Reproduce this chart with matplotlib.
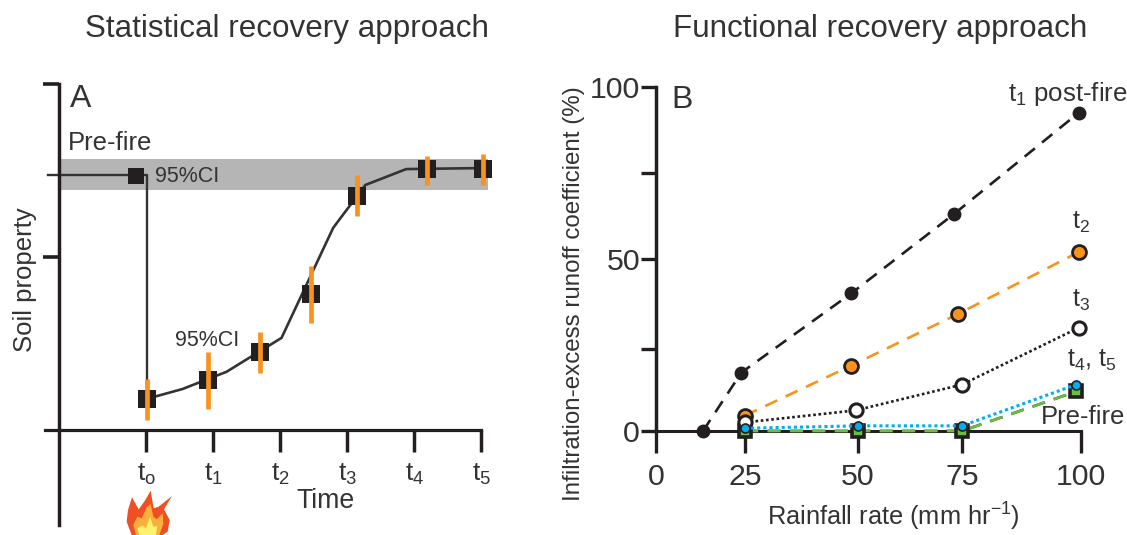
import matplotlib
matplotlib.use("Agg")
import matplotlib.pyplot as plt
import numpy as np
from matplotlib.patches import Polygon

plt.rcParams['font.family'] = ['Liberation Sans', 'DejaVu Sans']
plt.rcParams['mathtext.fontset'] = 'custom'
plt.rcParams['mathtext.rm'] = 'Liberation Sans'
plt.rcParams['text.color'] = '#333333'

W, H = 1127, 535
BLACK = '#231f20'
ORANGE = '#f7931e'

# panel A, statistical recovery
time_labels = [r'$\mathregular{t_o}$', r'$\mathregular{t_1}$', r'$\mathregular{t_2}$',
               r'$\mathregular{t_3}$', r'$\mathregular{t_4}$', r'$\mathregular{t_5}$']
pre_time = [-1.46, 0.015, 0.015]
pre_value = [73.6, 73.6, 9]
pre_point_time = -0.15
pre_point_value = 73.4
pre_band = [69.4, 78.2]
curve_time = [0.015, 0.54, 1.2, 2.02, 2.79, 3.27, 3.88, 5.03]
curve_value = [9, 11.8, 16.8, 26.6, 58.4, 70.8, 75.4, 75.7]
point_time = [0.015, 0.925, 1.7, 2.46, 3.15, 4.19, 5.03]
point_value = [9, 14.5, 22.5, 39.3, 67.6, 75.4, 75.4]
ci_low = [2.9, 6, 16.5, 30.8, 61.8, 70.7, 70.7]
ci_high = [14.7, 22.5, 28.3, 47.4, 73.7, 79.2, 79.8]

# panel B, functional recovery
x_ticks = [0, 25, 50, 75, 100]
x_tick_px = [0, 89, 202, 306, 425]  # the axis of the original is not evenly spaced
y_ticks = [0, 23.8, 50, 75, 100]
y_tick_labels = ['0', '', '50', '', '100']
t1_x = [13.2, 24, 48.5, 73, 99.5]
t1_y = [0, 17, 40, 63, 92.5]
t2_x = [25, 48.5, 74, 99.5]
t2_y = [4.5, 19, 34, 52]
t3_x = [25, 49.5, 75, 99.5]
t3_y = [2.5, 6, 13.5, 30]
t45_x = [25, 50, 75, 99]
t45_y = [0.8, 1.5, 1.5, 13.5]
pre_x = [25, 50, 75, 99]
pre_y = [0, 0, 0, 11.5]

# flame outline in the pixels of a 3x crop
flame_outer_x = [95, 80, 84, 96, 116, 136, 152, 161, 176, 216, 192, 209, 203, 188, 100]
flame_outer_y = [345, 305, 270, 232, 268, 240, 212, 265, 260, 228, 268, 300, 335, 345, 345]
flame_mid_x = [108, 100, 112, 125, 140, 152, 160, 170, 188, 190, 178, 120]
flame_mid_y = [345, 315, 290, 295, 262, 252, 290, 298, 280, 312, 345, 345]
flame_core_x = [118, 112, 128, 138, 150, 160, 172, 168, 150, 130]
flame_core_y = [345, 325, 316, 325, 290, 320, 318, 345, 345, 345]


def axes_px(fig, left, top, right, bottom):
    return fig.add_axes([left / W, 1 - bottom / H, (right - left) / W, (bottom - top) / H])


def label_px(fig, x, y, s, size):
    fig.text(x / W, 1 - y / H, s, fontsize=size, ha='center', va='center', zorder=10)


fig = plt.figure(figsize=(W / 100, H / 100), dpi=100)

# ---- panel A
a = axes_px(fig, 59, 84, 490, 525)
a.set_xlim(-1.3, 5.13)
a.set_ylim(-27.5, 100)
a.patch.set_alpha(0)
a.axhspan(pre_band[0], pre_band[1], xmin=0, xmax=(488 - 59) / 431, color='#b5b5b5', lw=0, zorder=1)
a.plot(pre_time, pre_value, color='#333333', lw=1.7, zorder=2, clip_on=False)
a.plot(curve_time, curve_value, color='#333333', lw=1.9, zorder=2, clip_on=False)
a.scatter([pre_point_time], [pre_point_value], marker='s', s=130, color=BLACK, lw=0, zorder=3)
a.scatter(point_time, point_value, marker='s', s=150, color=BLACK, lw=0, zorder=3, clip_on=False)
a.vlines(point_time, ci_low, ci_high, color=ORANGE, lw=3.4, zorder=4)

for s in ['top', 'right']:
    a.spines[s].set_visible(False)
a.spines['left'].set_linewidth(2.5)
a.spines['left'].set_color(BLACK)
a.spines['bottom'].set_position(('data', 0))
a.spines['bottom'].set_bounds(-1.51, 5.0)
a.spines['bottom'].set_linewidth(2.3)
a.spines['bottom'].set_color(BLACK)
a.set_xticks(range(6))
a.set_xticklabels(time_labels, fontsize=19)
a.tick_params(axis='x', length=16, width=2.5, color=BLACK, pad=7, labelcolor='#333333')
a.set_yticks([50, 100])
a.set_yticklabels([])
a.tick_params(axis='y', length=11.5, width=2.6, color=BLACK)

label_px(fig, 287, 29, 'Statistical recovery approach', 22.6)
fig.text(25 / W, 1 - 280 / H, 'Soil property', fontsize=18.5, rotation=90, ha='center', va='center')
label_px(fig, 325, 501, 'Time', 19.2)
label_px(fig, 81, 99, 'A', 23)
label_px(fig, 110, 143, 'Pre-fire', 18.5)
label_px(fig, 187, 176, '95%CI', 15.5)
label_px(fig, 207, 341, '95%CI', 15.5)

# ---- panel B
def fwd(x):
    return np.interp(x, x_ticks, x_tick_px)


def inv(x):
    return np.interp(x, x_tick_px, x_ticks)


b = axes_px(fig, 656, 87, 1081, 431)
b.set_xscale('function', functions=(fwd, inv))
b.set_xlim(0, 100)
b.set_ylim(0, 100)
b.patch.set_alpha(0)

b.plot(t1_x, t1_y, color=BLACK, lw=1.9, dashes=(5, 3.5), marker='o', ms=9, mfc=BLACK, mec=BLACK, zorder=3, clip_on=False)
b.plot(t2_x, t2_y, color=ORANGE, lw=1.9, dashes=(5, 3.5), zorder=3)
b.plot(t2_x, t2_y, ls='none', marker='o', ms=10, mfc=ORANGE, mec=BLACK, mew=2.0, zorder=4, clip_on=False)
b.plot(pre_x, pre_y, color=BLACK, lw=1.9, zorder=3, clip_on=False, dashes=(5, 3.5))
b.plot(pre_x, pre_y, color='#6abd45', lw=1.9, dashes=(5, 3.5), zorder=3.5, clip_on=False)
b.plot(pre_x, pre_y, ls='none', marker='s', ms=9, mfc='#6abd45', mec=BLACK, mew=2.6, zorder=5, clip_on=False)
b.plot(t3_x, t3_y, color=BLACK, lw=1.9, ls=(0, (1, 1)), marker='o', ms=9.5, mfc='white', mec=BLACK, mew=2.2, zorder=6, clip_on=False)
b.plot(t45_x, t45_y, color='#00aeef', lw=2.2, ls=(0, (1, 1)), marker='o', ms=6.5, mfc='#00aeef', mec=BLACK, mew=1.2, zorder=7, clip_on=False)

for s in ['top', 'right']:
    b.spines[s].set_visible(False)
b.spines['left'].set_linewidth(2.5)
b.spines['left'].set_color(BLACK)
b.spines['left'].set_bounds(0, 100)
b.spines['bottom'].set_linewidth(2.2)
b.spines['bottom'].set_color(BLACK)
b.set_xticks(x_ticks)
b.set_xticklabels([str(v) for v in x_ticks], fontsize=21.8, color='#333333')
b.set_xticks([], minor=True)
b.tick_params(axis='x', length=16, width=2.4, color=BLACK, pad=7)
b.set_yticks(y_ticks)
b.set_yticklabels(y_tick_labels, fontsize=21.8, color='#333333')
b.tick_params(axis='y', length=11, width=2.4, color=BLACK, pad=0.5)

label_px(fig, 880, 29, 'Functional recovery approach', 22.6)
fig.text(574 / W, 1 - 294 / H, 'Infiltration-excess runoff coefficient (%)', fontsize=17.4, rotation=90, ha='center', va='center')
label_px(fig, 893, 517, r'Rainfall rate (mm hr$^{\mathregular{-1}}$)', 18.3)
label_px(fig, 682, 100, 'B', 23)
label_px(fig, 1068, 94, r't$_{\mathregular{1}}$ post-fire', 18.6)
label_px(fig, 1081, 222, r't$_{\mathregular{2}}$', 18)
label_px(fig, 1081, 300, r't$_{\mathregular{3}}$', 18)
label_px(fig, 1092, 360, r't$_{\mathregular{4}}$, t$_{\mathregular{5}}$', 18)
label_px(fig, 1083, 417, 'Pre-fire', 18.5)

# ---- flame under t0
f = axes_px(fig, 100, 420, 220, 535)
f.set_xlim(0, 360)
f.set_ylim(345, 0)
f.axis('off')
f.add_patch(Polygon(np.column_stack([flame_outer_x, flame_outer_y]), color='#ef4f23', lw=0))
f.add_patch(Polygon(np.column_stack([flame_mid_x, flame_mid_y]), color='#fbae3c', lw=0))
f.add_patch(Polygon(np.column_stack([flame_core_x, flame_core_y]), color='#fdf26d', lw=0))

fig.savefig('out.png', dpi=100)
